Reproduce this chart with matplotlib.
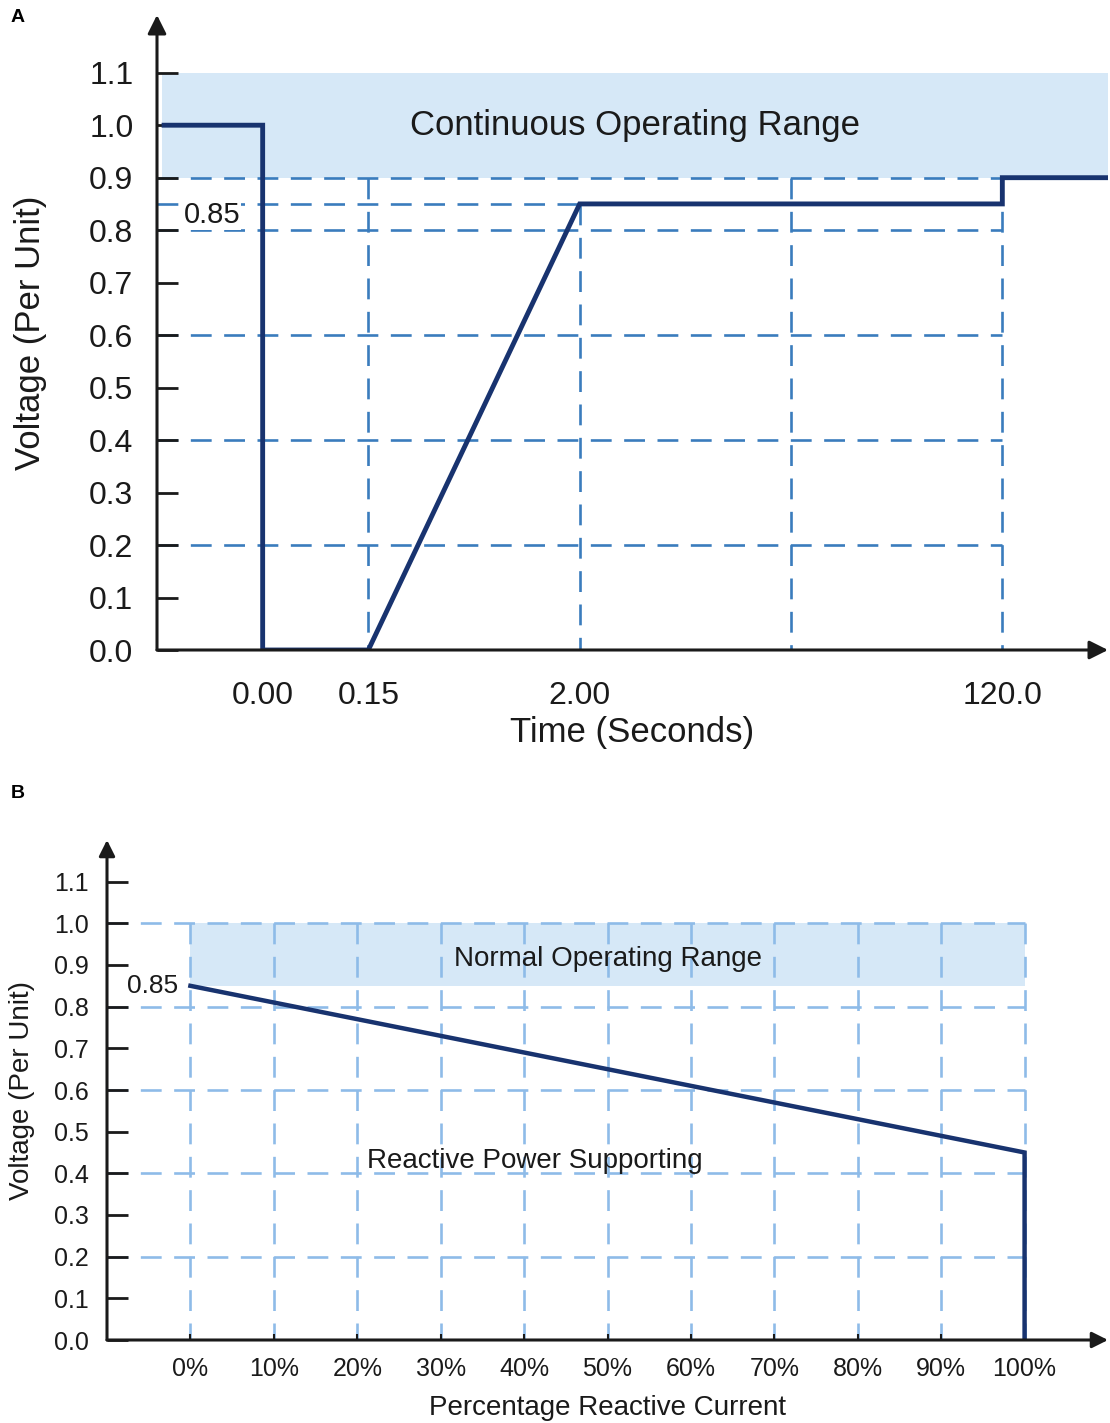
import numpy as np
import matplotlib
matplotlib.use('Agg')
import matplotlib.pyplot as plt

plt.rcParams['font.family'] = ['Liberation Sans', 'DejaVu Sans']
plt.rcParams['lines.scale_dashes'] = False

# --- panel A: voltage ride-through curve vs time ---
fault_time = [-0.14, 0.0, 0.0, 0.15, 2.0, 120.0, 120.0, 150.0]
fault_volt = [1.0, 1.0, 0.0, 0.0, 0.85, 0.85, 0.9, 0.9]
time_ticks = [0.0, 0.15, 2.0, 120.0]
time_labels = ['0.00', '0.15', '2.00', '120.0']
volt_ticks = [0.0, 0.1, 0.2, 0.3, 0.4, 0.5, 0.6, 0.7, 0.8, 0.9, 1.0, 1.1]
continuous_range = (0.9, 1.1)

# --- panel B: reactive current support ---
reactive_pct = [0, 100, 100]
reactive_volt = [0.85, 0.45, 0.0]
pct_ticks = list(range(0, 101, 10))
normal_range = (0.85, 1.0)

# piecewise-linear time axis (breaks in seconds -> axis units)
T_BREAKS = [-0.15, 0.0, 0.15, 2.0, 60.0, 120.0, 150.0]
P_BREAKS = [0.0, 1.0, 2.0, 4.0, 6.0, 8.0, 9.0]


def t_fwd(t):
    return np.interp(t, T_BREAKS, P_BREAKS)


def t_inv(p):
    return np.interp(p, P_BREAKS, T_BREAKS)


NAVY = '#18336f'
DASH_A = '#3a7cbd'
DASH_B = '#8ebbe8'
BAND = '#d6e8f7'
INK = '#1a1a1a'
DASHES = (15, 9)

fig = plt.figure(figsize=(11.10, 14.23), dpi=100)


def add_arrows(ax, scale):
    for spine in ax.spines.values():
        spine.set_visible(False)
    props = dict(arrowstyle='-|>', color=INK, lw=2.2, mutation_scale=scale,
                 shrinkA=0, shrinkB=0)
    ax.annotate('', xy=(0, 1), xytext=(0, 0), xycoords='axes fraction',
                textcoords='axes fraction', arrowprops=props, annotation_clip=False)
    ax.annotate('', xy=(1, 0), xytext=(0, 0), xycoords='axes fraction',
                textcoords='axes fraction', arrowprops=props, annotation_clip=False)


# ---------------- A ----------------
axA = fig.add_axes([157 / 1110, 1 - 650 / 1423, 951 / 1110, 635 / 1423])
axA.set_xscale('function', functions=(t_fwd, t_inv))
axA.set_xlim(-0.15, 150)
axA.set_ylim(0, 1.21)

axA.axhspan(*continuous_range, xmin=0.005, xmax=1, color=BAND, lw=0, zorder=0)

# dashed guide lines
ga = dict(color=DASH_A, lw=1.9, dashes=DASHES, zorder=1)
axA.plot([-0.15, 150], [0.9, 0.9], **ga)
for v in [0.85, 0.8, 0.6, 0.4, 0.2]:
    axA.plot([-0.15, 120], [v, v], **ga)
axA.plot([0.15, 0.15], [0.9, 0], **ga)
axA.plot([2.0, 2.0], [0.85, 0], **ga)
axA.plot([60.0, 60.0], [0.9, 0], **ga)
axA.plot([120.0, 120.0], [0.9, 0], **ga)

axA.plot(fault_time, fault_volt, color=NAVY, lw=3.5, zorder=3,
         solid_joinstyle='miter')

axA.set_xticks(time_ticks)
axA.set_xticklabels(time_labels)
axA.set_yticks(volt_ticks)
axA.set_yticklabels([f'{v:.1f}' for v in volt_ticks])
axA.tick_params(axis='y', direction='in', length=15, width=2, color=INK,
                labelsize=23, pad=17, labelcolor=INK)
axA.tick_params(axis='x', length=0, labelsize=23, pad=22, labelcolor=INK)
axA.minorticks_off()
axA.set_xlabel('Time (Seconds)', fontsize=25, labelpad=4, color=INK)
axA.set_ylabel('Voltage (Per Unit)', fontsize=25, labelpad=30, color=INK)

axA.text(0.503, 1.0, 'Continuous Operating Range', transform=axA.get_yaxis_transform(),
         ha='center', va='center', fontsize=25, color=INK)
axA.text(0.058, 0.828, '0.85', transform=axA.get_yaxis_transform(),
         ha='center', va='center', fontsize=21, color=INK,
         bbox=dict(facecolor='white', edgecolor='none', pad=0.5))
add_arrows(axA, 28)

# ---------------- B ----------------
axB = fig.add_axes([107 / 1110, 1 - 1340 / 1423, 1001 / 1110, 500 / 1423])
axB.set_xlim(-10, 110)
axB.set_ylim(0, 1.2)

axB.fill_between([0, 100], normal_range[0], normal_range[1], color=BAND, lw=0, zorder=0)

gb = dict(color=DASH_B, lw=1.9, dashes=DASHES, zorder=1)
for v in [1.0, 0.8, 0.6, 0.4, 0.2]:
    axB.plot([-10, 100], [v, v], **gb)
for p in pct_ticks:
    axB.plot([p, p], [1.0, 0], **gb)

axB.plot(reactive_pct, reactive_volt, color=NAVY, lw=3.2, zorder=3,
         solid_joinstyle='miter')

axB.set_xticks(pct_ticks)
axB.set_xticklabels([f'{p}%' for p in pct_ticks])
axB.set_yticks(volt_ticks)
axB.set_yticklabels([f'{v:.1f}' for v in volt_ticks])
axB.tick_params(axis='y', direction='in', length=15, width=2, color=INK,
                labelsize=18, pad=13, labelcolor=INK)
axB.tick_params(axis='x', direction='in', length=4, width=1.5, color=INK,
                labelsize=18, pad=12, labelcolor=INK)
axB.set_xlabel('Percentage Reactive Current', fontsize=20, labelpad=10, color=INK)
axB.set_ylabel('Voltage (Per Unit)', fontsize=20, labelpad=14, color=INK)

axB.text(50, 0.915, 'Normal Operating Range', ha='center', va='center',
         fontsize=20, color=INK)
axB.text(41.3, 0.43, 'Reactive Power Supporting', ha='center', va='center',
         fontsize=20, color=INK)
axB.text(-1.5, 0.85, '0.85', ha='right', va='center', fontsize=19, color=INK)
add_arrows(axB, 24)

fig.text(18 / 1110, 1 - 18 / 1423, 'A', fontsize=14, fontweight='bold',
         ha='center', va='center')
fig.text(18 / 1110, 1 - 793 / 1423, 'B', fontsize=14, fontweight='bold',
         ha='center', va='center')

fig.savefig('out.png', dpi=100)
